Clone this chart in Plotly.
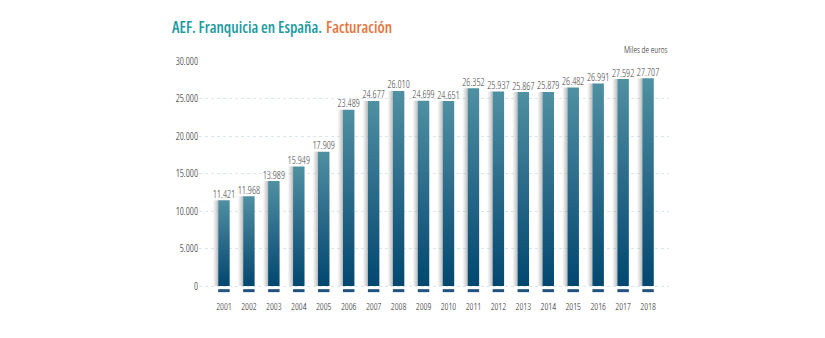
import plotly.graph_objects as go

years = ["2001", "2002", "2003", "2004", "2005", "2006", "2007", "2008", "2009",
         "2010", "2011", "2012", "2013", "2014", "2015", "2016", "2017", "2018"]
facturacion = [11421, 11968, 13989, 15949, 17909, 23489, 24677, 26010, 24699,
               24651, 26352, 25937, 25867, 25879, 26482, 26991, 27592, 27707]
y_ticks = [0, 5000, 10000, 15000, 20000, 25000, 30000]

W, H = 825, 338
BAR_W = 0.46
SHADOW_W = 0.22
FONT = "Open Sans, Roboto, sans-serif"
COND = "font-stretch:75%"


def cond(s):
    return "<span style='" + COND + "'>" + s + "</span>"


fig = go.Figure()

# bar shadows
for i, v in enumerate(facturacion):
    x0 = i - BAR_W / 2
    fig.add_trace(go.Scatter(
        x=[x0 - SHADOW_W, x0, x0, x0 - SHADOW_W, x0 - SHADOW_W],
        y=[0, 0, v, v, 0], mode="lines", line=dict(width=0),
        fill="toself",
        fillgradient=dict(type="horizontal",
                          colorscale=[[0, "rgba(160,160,160,0)"], [1, "rgba(140,140,140,0.6)"]]),
        hoverinfo="skip", showlegend=False))

# gradient bars
for i, v in enumerate(facturacion):
    x0, x1 = i - BAR_W / 2, i + BAR_W / 2
    fig.add_trace(go.Scatter(
        x=[x0, x1, x1, x0, x0], y=[0, 0, v, v, 0],
        mode="lines", line=dict(width=0), fill="toself",
        fillgradient=dict(type="vertical",
                          colorscale=[[0, "#01476f"], [0.5, "#2a6a89"], [1, "#4f90a2"]]),
        name=years[i], hovertemplate="%{y:,d}<extra></extra>", showlegend=False))

# value labels
fig.add_trace(go.Scatter(
    x=list(range(len(years))), y=facturacion, mode="text",
    texttemplate=cond("%{y:,d}"), textposition="top center",
    textfont=dict(family=FONT, size=10, color="#444444", weight=300),
    hoverinfo="skip", showlegend=False))

# small dashes under the axis
for i in range(len(years)):
    fig.add_shape(type="rect", xref="x", yref="y",
                  x0=i - BAR_W / 2, x1=i + BAR_W / 2, y0=-820, y1=-420,
                  fillcolor="#24527f", line=dict(width=0), layer="above")

fig.update_layout(
    width=W, height=H,
    margin=dict(l=199, r=156, t=61, b=43),
    paper_bgcolor="white", plot_bgcolor="white",
    separators=",.",
    showlegend=False,
    title=dict(
        text="<span style='color:#1a9aa0;" + COND + "'>AEF. Franquicia en España.</span> "
             "<span style='color:#e8743b;" + COND + "'>Facturación</span>",
        x=172 / W, xanchor="left", xref="container",
        y=1 - 28 / H, yanchor="middle", yref="container",
        font=dict(family=FONT, size=15.5, weight=600)),
    annotations=[dict(text=cond("Miles de euros"),
                      xref="paper", yref="paper",
                      x=1, y=1, xanchor="right", yanchor="bottom", yshift=3,
                      showarrow=False,
                      font=dict(family=FONT, size=9, color="#222222", weight=300))],
    xaxis=dict(range=[-1.0, 17.84], tickvals=list(range(len(years))),
               ticktext=[cond(y) for y in years],
               showgrid=False, zeroline=False, showline=False, ticks="",
               ticklabelstandoff=4,
               tickfont=dict(family=FONT, size=9.5, color="#222222", weight=300)),
    yaxis=dict(range=[-1200, 30000], tickvals=y_ticks,
               ticktext=[cond(f"{t:,d}".replace(",", ".")) for t in y_ticks],
               showgrid=True, gridcolor="#d8e7ed", griddash="dot", gridwidth=1,
               zeroline=False, showline=False, ticks="",
               tickfont=dict(family=FONT, size=10, color="#222222", weight=300)),
)

fig.write_html("out.html")
